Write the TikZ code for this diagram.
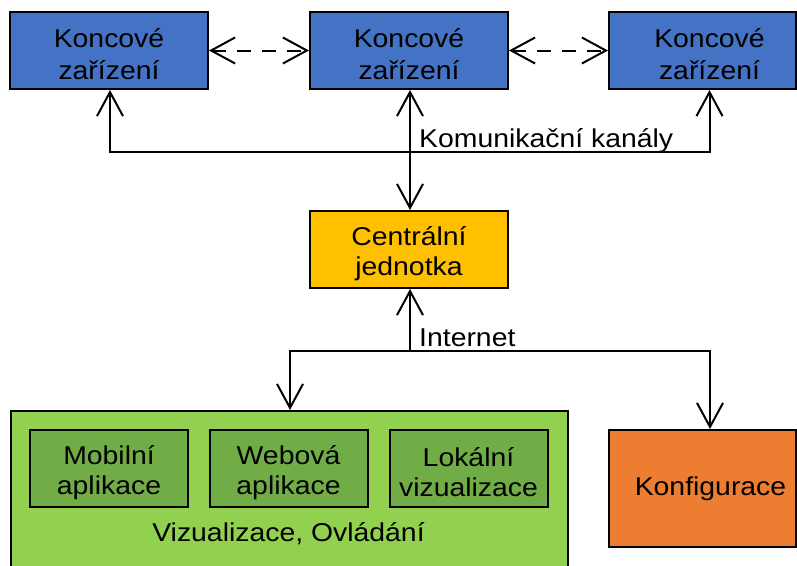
\documentclass[tikz,border=0pt]{standalone}
\usepackage{fontspec}
\setmainfont{Liberation Sans}[FakeStretch=1.1]
\usetikzlibrary{arrows.meta}
\definecolor{devblue}{HTML}{4472C4}
\definecolor{unityellow}{HTML}{FFC000}
\definecolor{vizgreen}{HTML}{92D050}
\definecolor{appgreen}{HTML}{70AD47}
\definecolor{cfgorange}{HTML}{ED7D31}
\tikzset{vtip/.tip={Straight Barb[length=24pt,width=26pt]}}
% two-line box text with fixed line boxes, so boxes look alike
\newcommand{\rowpair}[2]{\rule[-0.5pt]{0pt}{27.5pt}#1\\\rule[-0.5pt]{0pt}{27.5pt}#2}
\newcommand{\onerow}[1]{\rule[-1pt]{0pt}{20.4pt}#1}
\begin{document}
\begin{tikzpicture}[x=1pt,y=-1pt,
  font=\fontsize{25.8}{29.6}\selectfont,
  box/.style={draw=black, line width=2pt, inner sep=0pt, align=center,
    minimum width=198pt, minimum height=77pt},
  wide/.style={font=\fontsize{25.8}{31.7}\selectfont},
  plain/.style={inner sep=0pt, align=center},
  link/.style={line width=2pt},
]
\useasboundingbox (0,0) rectangle (797,565);
\clip (0,0) rectangle (797,565);

% end devices
\node[box, wide, fill=devblue] (k1) at (109,50.5) {\rowpair{Koncové}{zařízení}};
\node[box, wide, fill=devblue] (k2) at (409,50.5) {\rowpair{Koncové}{zařízení}};
\node[box, fill=devblue, minimum width=187pt] (k3) at (702.5,50.5) {};
\node[plain, wide] (k3t) at (709.5,50.5) {\rowpair{Koncové}{zařízení}};

% central unit
\node[box, fill=unityellow] (cu) at (409,249.5) {\rowpair{Centrální}{jednotka}};

% visualisation / control block
\node[box, fill=vizgreen, minimum width=557pt, minimum height=180pt, anchor=north west] (viz) at (10,410) {};
\node[box, fill=appgreen, minimum width=158pt] (mob) at (109,468.5) {\rowpair{Mobilní}{aplikace}};
\node[box, fill=appgreen, minimum width=158pt] (web) at (288.5,468.5) {\rowpair{Webová}{aplikace}};
\node[box, fill=appgreen, minimum width=158pt] (lok) at (468.5,468.5) {\rowpair{Lokální}{vizualizace}};
\node[plain, anchor=base] (vizt) at (288.5,541) {Vizualizace, Ovládání};

% configuration
\node[box, fill=cfgorange, minimum width=187pt, minimum height=117pt] (cfg) at (702.5,488.5) {};
\node[plain] (cfgt) at (710.5,488.5) {\onerow{Konfigurace}};

% links between end devices
\draw[link, dash pattern=on 14pt off 11pt, vtip-vtip] (k1.east) -- (k2.west);
\draw[link, dash pattern=on 14pt off 11pt, vtip-vtip] (k2.east) -- (k3.west);

% communication channels
\coordinate (busl) at (110,152);
\draw[link, vtip-vtip] (k1.south -| busl) -- (busl) -| (k3t |- k3.south);
\draw[link, vtip-vtip] (k2.south -| 410,0) -- (cu.north -| 410,0);
\node[plain, anchor=base west] (lblk) at (419,147) {Komunikační kanály};

% internet
\coordinate (inet) at (410,351);
\draw[link, vtip-] (cu.south -| inet) -- (inet);
\draw[link, -vtip] (inet) -| (viz.north -| 290,0);
\draw[link, -vtip] (inet) -| (cfg.north -| 710,0);
\node[plain, anchor=base west] (lbli) at (419,346) {Internet};
\end{tikzpicture}
\end{document}
